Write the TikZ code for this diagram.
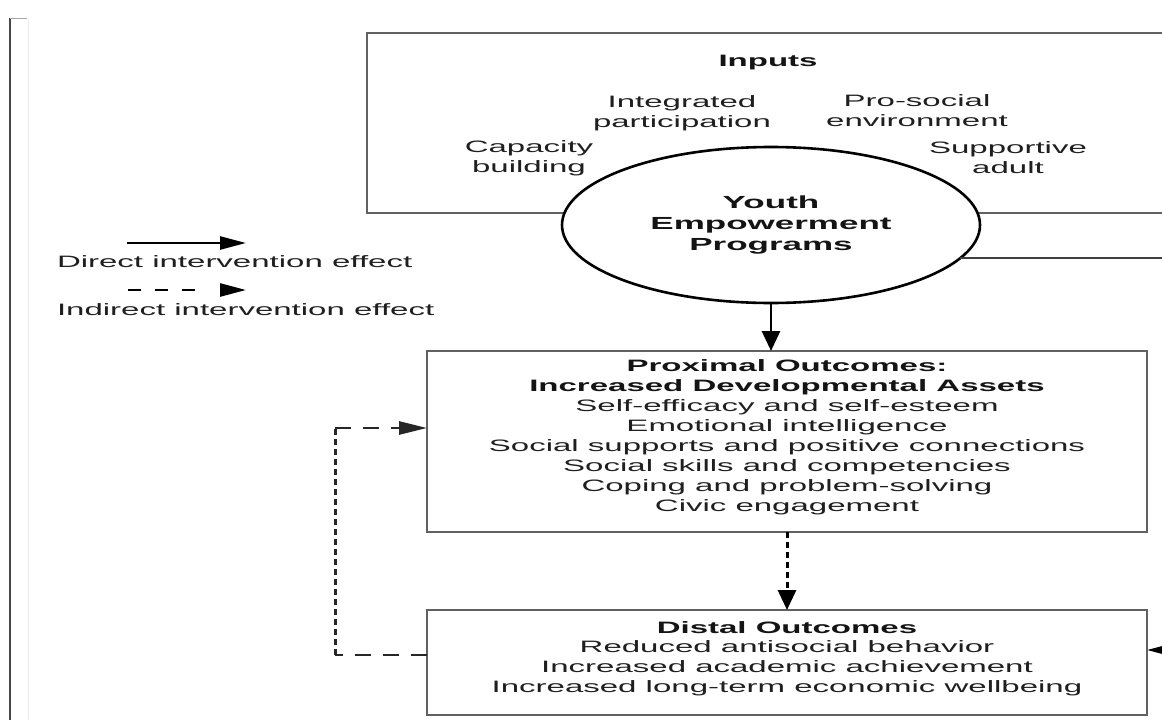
\documentclass[tikz,border=0pt]{standalone}
\usepackage{fontspec}
\setmainfont{Liberation Sans}[FakeStretch=2.0]
\usetikzlibrary{arrows.meta,shapes.geometric}
\begin{document}
\begin{tikzpicture}[x=1pt,y=-1pt,
  box/.style={draw=black!62, line width=2pt, rectangle, inner sep=0pt, outer sep=0pt},
  txt/.style={font=\fontsize{16.5}{20}\selectfont, text=black!88, align=center, inner sep=0pt, outer sep=0pt},
  btxt/.style={font=\fontsize{16.5}{20}\selectfont\bfseries, text=black!92, align=center, inner sep=0pt, outer sep=0pt},
  harr/.style={line width=2.6pt, draw=black, -{Triangle[length=26pt,width=13pt]}},
  varr/.style={line width=2.8pt, draw=black, -{Triangle[length=20pt,width=18pt]}},
  hdash/.style={line width=2.8pt, draw=black!85, dash pattern=on 16pt off 12pt},
  vdash/.style={line width=3pt, draw=black!85, dash pattern=on 6pt off 4pt},
]
\useasboundingbox (0,0) rectangle (1162,720);
\fill[white] (0,0) rectangle (1162,720);
\clip (0,0) rectangle (1162,720);

% left page border
\draw[black!8, line width=1pt] (28,20) -- (28,720);
\draw[black!72, line width=1.8pt] (10,18) -- (10,720);
\draw[black!35, line width=1pt] (10,18) -- (27,18);

% inputs box (extends past right edge)
\node[box, anchor=north west, minimum width=840pt, minimum height=180pt] (inputs) at (367,33) {};
\node[btxt] (inputsT) at (768,63) {Inputs};
\node[txt] (integ) at (682,113) {Integrated\\participation};
\node[txt] (prosoc) at (917,111) {Pro-social\\environment};
\node[txt] (capac) at (529,158) {Capacity\\building};
\node[txt] (suppa) at (1008,158) {Supportive\\adult};

% ellipse
\node[ellipse, draw=black, line width=2.6pt, fill=white, minimum width=418pt, minimum height=156pt,
      inner sep=0pt, outer sep=0pt, font=\fontsize{17.5}{21}\selectfont\bfseries, text=black!92, align=center]
      (yep) at (771,225) {Youth\\Empowerment\\Programs};

% line from ellipse to the right edge
\coordinate (rEnd) at (1175,259);
\draw[black!75, line width=2pt] (yep.-10) -- (yep.-10 -| rEnd);

% proximal outcomes box
\node[box, anchor=north west, minimum width=720pt, minimum height=181pt] (prox) at (427,351) {};
\node[btxt] (proxT) at (787,377) {Proximal Outcomes:\\Increased Developmental Assets};
\node[txt] (proxL) at (787,457) {Self-efficacy and self-esteem\\Emotional intelligence\\Social supports and positive connections\\Social skills and competencies\\Coping and problem-solving\\Civic engagement};

% distal outcomes box
\node[box, anchor=north west, minimum width=720pt, minimum height=105pt] (dist) at (427,610) {};
\node[btxt] (distT) at (787,628) {Distal Outcomes};
\node[txt] (distL) at (787,668) {Reduced antisocial behavior\\Increased academic achievement\\Increased long-term economic wellbeing};

% direct effect: ellipse -> proximal
\draw[varr] (yep.south) -- (yep.south |- prox.north);

% indirect: proximal -> distal
\draw[varr, dash pattern=on 6pt off 4pt, line width=3pt] (prox.south) -- (dist.north);

% feedback loop distal -> proximal
\coordinate (fbBot) at (335,655);
\coordinate (fbTop) at (335,428);
\draw[hdash] (dist.west |- fbBot) -- (fbBot);
\draw[vdash] (fbBot) -- (fbTop);
\draw[hdash, -{Triangle[length=28pt,width=13pt]}] (fbTop) -- (fbTop -| prox.west);

% arrow entering distal box from the right edge
\coordinate (rArr) at (1190,650);
\draw[harr] (rArr) -- (rArr -| dist.east);

% legend
\coordinate (lgAa) at (127,243);
\coordinate (lgAb) at (246,243);
\coordinate (lgBa) at (128,290);
\coordinate (lgBb) at (246,290);
\draw[harr] (lgAa) -- (lgAb);
\draw[harr, dash pattern=on 13pt off 14pt on 13pt off 14pt on 13pt off 40pt] (lgBa) -- (lgBb);
\node[txt, anchor=west] (lgAt) at (57,262) {Direct intervention effect};
\node[txt, anchor=west] (lgBt) at (57,310) {Indirect intervention effect};
\end{tikzpicture}
\end{document}
